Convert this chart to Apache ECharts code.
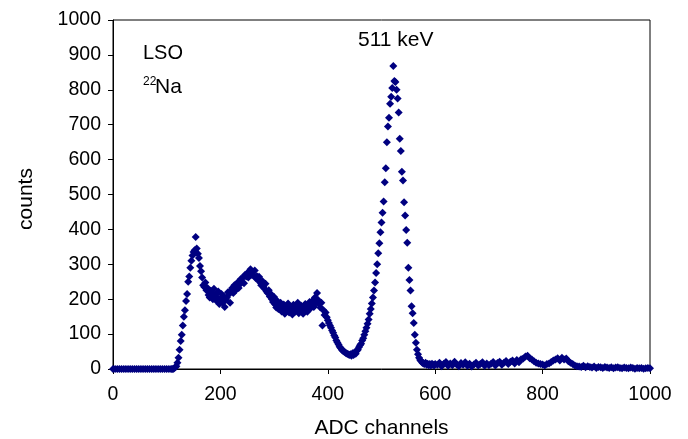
<!DOCTYPE html>
<html>
<head>
<meta charset="utf-8">
<script src="https://cdn.jsdelivr.net/npm/echarts@6/dist/echarts.min.js"></script>
<style>
html,body{margin:0;padding:0;background:#fff;}
#chart{width:688px;height:439px;}
</style>
</head>
<body>
<div id="chart"></div>
<script>
// Channels 0..108, step 4
const lowStart = 0, lowStep = 4;
const countsLow = [0,0,0,0,0,0,0,0,0,0,0,0,0,0,0,0,0,0,0,0,0,0,0,0,0,0,0,0];

// Channels 110..600, step 2
const midStart = 110, midStep = 2;
const countsMid = [
  0,0,2,5,8,18,32,55,80,98,            // 110-128
  125,150,168,195,215,250,265,290,310,325, // 130-148
  335,340,378,345,330,318,295,280,262,240, // 150-168
  235,248,226,232,212,205,224,218,200,230, // 170-188
  212,196,205,222,186,200,215,190,208,178, // 190-208
  198,205,220,214,190,226,232,218,240,225, // 210-228
  236,248,232,242,258,250,262,246,270,265, // 230-248
  274,262,280,286,270,278,268,282,260,266, // 250-268
  256,264,248,240,252,236,230,244,222,218, // 270-288
  226,208,215,200,192,206,185,176,195,172, // 290-308
  182,190,165,176,185,158,170,180,188,162, // 310-328
  175,168,156,184,178,165,172,190,160,176, // 330-348
  182,168,158,172,186,176,164,180,192,174, // 350-368
  185,196,178,205,190,218,198,186,176,190, // 370-388
  125,168,155,162,148,140,132,125,118,110, // 390-408
  104,96,90,82,76,70,64,60,55,52,          // 410-428
  50,48,45,44,42,40,42,38,45,40,           // 430-448
  48,44,52,55,62,68,72,82,88,98,           // 450-468
  108,118,130,142,158,172,188,205,225,248, // 470-488
  275,300,332,360,392,420,448,480,535,575, // 490-508
  650,695,720,760,780,805,868,825,822,800, // 510-528
  775,735,660,625,565,540,478,440,398,362, // 530-548
  290,255,225,180,160,132,98,75,55,42,     // 550-568
  32,26,22,18,16,14,18,12,15,11,           // 570-588
  14,10,15,12,10,14                        // 590-600
];

// Channels 604..1000, step 4
const highStart = 604, highStep = 4;
const countsHigh = [
  12,18,8,15,20,9,16,11,21,13,   // 604-640
  8,17,12,19,9,15,7,13,18,10,    // 644-680
  14,19,9,16,11,15,20,10,17,21,  // 684-720
  12,18,23,14,21,24,16,26,19,28, // 724-760
  30,36,38,31,27,22,18,16,14,13, // 764-800
  10,14,16,20,24,27,31,24,32,27, // 804-840
  30,22,18,14,10,8,7,6,9,5,      // 844-880
  8,6,4,7,3,6,5,3,6,4,           // 884-920
  3,5,2,4,5,3,2,4,3,2,           // 924-960
  4,3,1,3,2,3,1,2,3,2            // 964-1000
];

const xTicks = [0, 200, 400, 600, 800, 1000];
const yTicks = [0,100,200,300,400,500,600,700,800,900,1000];

const data = [];
countsLow.forEach((v, i) => data.push([lowStart + i * lowStep, v]));
countsMid.forEach((v, i) => data.push([midStart + i * midStep, v]));
countsHigh.forEach((v, i) => data.push([highStart + i * highStep, v]));

const FONT = 'Liberation Sans, Arial, sans-serif';
const chart = echarts.init(document.getElementById('chart'), null, {renderer: 'canvas'});
chart.setOption({
  animation: false,
  backgroundColor: '#fff',
  grid: {left: 113, right: 38, top: 20, bottom: 70, containLabel: false, outerBoundsMode: 'none',
         show: true, borderColor: '#000', borderWidth: 1, backgroundColor: 'transparent'},
  xAxis: {
    type: 'value', min: 0, max: 1000, interval: 200,
    name: 'ADC channels', nameLocation: 'middle', nameGap: 49,
    nameTextStyle: {fontFamily: FONT, fontSize: 21, color: '#000'},
    axisLine: {show: true, lineStyle: {color: '#000', width: 1}},
    axisTick: {show: true, length: 5, lineStyle: {color: '#000'}},
    axisLabel: {fontFamily: FONT, fontSize: 19.5, color: '#000', margin: 16, formatter: v => String(v)},
    splitLine: {show: false}
  },
  yAxis: {
    type: 'value', min: 0, max: 1000, interval: 100,
    name: 'counts', nameLocation: 'middle', nameGap: 76,
    nameTextStyle: {fontFamily: FONT, fontSize: 21, color: '#000', padding: [0, 9, 0, 0]},
    axisLine: {show: true, lineStyle: {color: '#000', width: 1}},
    axisTick: {show: true, length: 5, lineStyle: {color: '#000'}},
    axisLabel: {fontFamily: FONT, fontSize: 19.5, color: '#000', margin: 12, formatter: v => String(v)},
    splitLine: {show: false}
  },
  series: [{
    type: 'scatter',
    data: data,
    symbol: 'diamond',
    symbolSize: 8,
    itemStyle: {color: '#000080', opacity: 1},
    z: 3
  }],
  graphic: [
    {type: 'text', left: 143, top: 43, style: {text: 'LSO', font: '20px ' + FONT, fill: '#000'}},
    {type: 'text', left: 143, top: 76, style: {text: '22', font: '12px ' + FONT, fill: '#000'}},
    {type: 'text', left: 155, top: 77, style: {text: 'Na', font: '21px ' + FONT, fill: '#000'}},
    {type: 'text', left: 358, top: 30, style: {text: '511 keV', font: '21px ' + FONT, fill: '#000'}}
  ]
});
</script>
</body>
</html>
